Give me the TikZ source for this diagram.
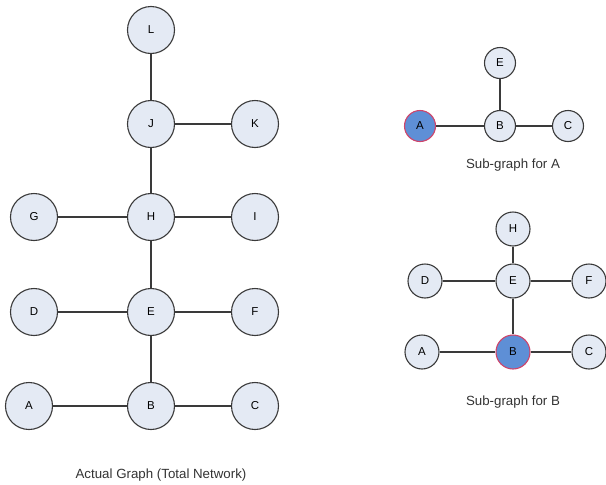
\documentclass[tikz,border=0pt]{standalone}
\usepackage{fontspec}
\setmainfont{Liberation Sans}
\definecolor{nodefill}{HTML}{E4EAF4}
\definecolor{hifill}{HTML}{5E8FD6}
\definecolor{hiborder}{HTML}{D0446A}
\definecolor{edgecol}{HTML}{3A3A3A}
\begin{document}
\begin{tikzpicture}[x=1pt,y=-1pt,
  bignode/.style={circle,draw=edgecol,fill=nodefill,line width=1.1pt,minimum size=47pt,inner sep=0pt,font=\fontsize{11.5}{12}\selectfont},
  midnode/.style={circle,draw=edgecol,fill=nodefill,line width=1.1pt,minimum size=34pt,inner sep=0pt,font=\fontsize{11.5}{12}\selectfont},
  smallnode/.style={circle,draw=edgecol,fill=nodefill,line width=1.1pt,minimum size=31pt,inner sep=0pt,font=\fontsize{11.5}{12}\selectfont},
  hilite/.style={fill=hifill,draw=hiborder},
  edge/.style={draw=edgecol,line width=1.1pt},
  caption/.style={font=\fontsize{13.3}{15}\selectfont,text=black!80}]
\useasboundingbox (0,0) rectangle (606,485);
% main graph
\node[bignode] (L) at (151,30) {L};
\node[bignode] (J) at (151,124) {J};
\node[bignode] (K) at (255,124) {K};
\node[bignode] (G) at (34,217) {G};
\node[bignode] (H) at (151,217) {H};
\node[bignode] (I) at (255,217) {I};
\node[bignode] (D) at (34,312) {D};
\node[bignode] (E) at (151,312) {E};
\node[bignode] (F) at (255,312) {F};
\node[bignode] (A) at (29,406) {A};
\node[bignode] (B) at (151,406) {B};
\node[bignode] (C) at (255,406) {C};
\draw[edge] (L) -- (J);
\draw[edge] (J) -- (K);
\draw[edge] (J) -- (H);
\draw[edge] (G) -- (H);
\draw[edge] (H) -- (I);
\draw[edge] (H) -- (E);
\draw[edge] (D) -- (E);
\draw[edge] (E) -- (F);
\draw[edge] (E) -- (B);
\draw[edge] (A) -- (B);
\draw[edge] (B) -- (C);
\node[caption] (cap1) at (161,475) {Actual Graph (Total Network)};
% sub-graph for A
\node[smallnode] (aE) at (500,63) {E};
\node[smallnode] (aB) at (500,126) {B};
\node[smallnode,hilite] (aA) at (420,126) {A};
\node[smallnode] (aC) at (568,126) {C};
\draw[edge] (aE) -- (aB);
\draw[edge] (aA) -- (aB);
\draw[edge] (aB) -- (aC);
\node[caption] (cap2) at (513,165) {Sub-graph for A};
% sub-graph for B
\node[midnode] (bH) at (513,229) {H};
\node[midnode] (bE) at (513,281) {E};
\node[midnode] (bD) at (425,281) {D};
\node[midnode] (bF) at (589,281) {F};
\node[midnode,hilite] (bB) at (513,352) {B};
\node[midnode] (bA) at (422,352) {A};
\node[midnode] (bC) at (589,352) {C};
\draw[edge] (bH) -- (bE);
\draw[edge] (bD) -- (bE);
\draw[edge] (bE) -- (bF);
\draw[edge] (bE) -- (bB);
\draw[edge] (bA) -- (bB);
\draw[edge] (bB) -- (bC);
\node[caption] (cap3) at (513,402) {Sub-graph for B};
\end{tikzpicture}
\end{document}
